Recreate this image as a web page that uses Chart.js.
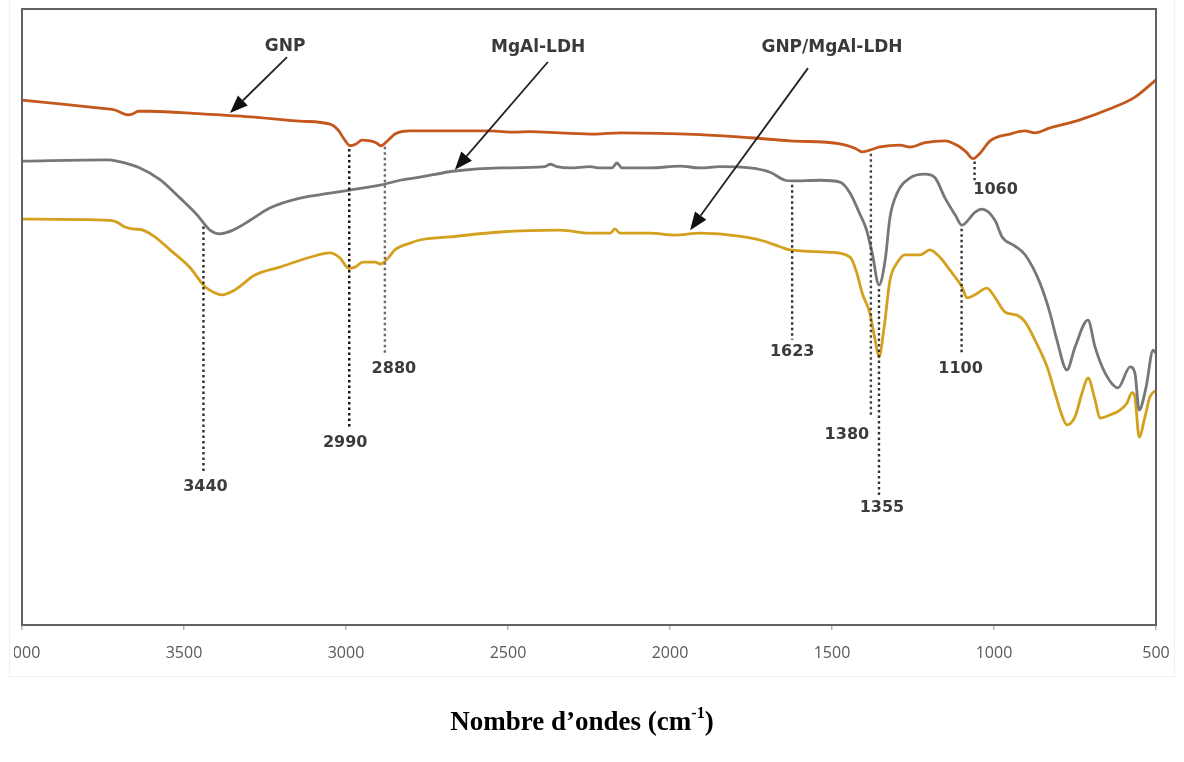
<!DOCTYPE html>
<html>
<head>
<meta charset="utf-8">
<title>FTIR</title>
<script src="https://cdn.jsdelivr.net/npm/chart.js@4.4.1/dist/chart.umd.min.js"></script>
<style>
  html, body { margin: 0; padding: 0; background: #ffffff; }
  body { width: 1184px; height: 762px; position: relative; overflow: hidden; }
  #frame { position: absolute; left: 9px; top: -1px; width: 1164px; height: 676px; border: 1px solid #f0f0f0; }
  #wrap { position: absolute; left: 14px; top: 0; width: 1170px; height: 762px; overflow: hidden; }
  #c { position: absolute; left: -14px; top: 0; }
</style>
</head>
<body>
<div id="frame"></div>
<div id="wrap"><canvas id="c" width="1184" height="762"></canvas></div>
<script>
// FTIR spectra, transmittance (a.u.) versus wavenumber (cm-1)
const gnpWn = [4000, 3883, 3759, 3713, 3691, 3673, 3657, 3642, 3605, 3451, 3296, 3142, 3049, 3025, 3006, 2988, 2969, 2951, 2926, 2907, 2892, 2870, 2849, 2802, 2679, 2555, 2480, 2432, 2340, 2230, 2154, 1907, 1753, 1630, 1475, 1429, 1407, 1383, 1352, 1290, 1259, 1213, 1151, 1111, 1086, 1065, 1043, 1012, 951, 904, 874, 827, 735, 642, 565, 500];
const gnpT  = [85.2, 84.6, 83.9, 83.6, 83.1, 82.8, 83.0, 83.4, 83.4, 83.0, 82.5, 81.8, 81.3, 80.4, 78.9, 77.8, 78.1, 78.7, 78.6, 78.3, 77.8, 78.7, 79.7, 80.2, 80.2, 80.2, 80.0, 80.1, 79.9, 79.7, 79.9, 79.6, 79.1, 78.6, 78.1, 77.4, 76.8, 77.1, 77.6, 77.9, 77.6, 78.3, 78.6, 77.8, 76.8, 75.7, 76.6, 78.6, 79.7, 80.2, 79.9, 80.7, 82.0, 83.8, 85.7, 88.5];

const ldhWn = [4000, 3738, 3707, 3636, 3574, 3512, 3460, 3420, 3389, 3349, 3296, 3235, 3142, 3049, 2988, 2895, 2833, 2772, 2664, 2525, 2386, 2370, 2349, 2309, 2247, 2216, 2179, 2164, 2148, 2062, 1969, 1907, 1846, 1753, 1691, 1645, 1623, 1537, 1475, 1444, 1413, 1395, 1376, 1355, 1336, 1321, 1299, 1259, 1213, 1182, 1151, 1120, 1099, 1059, 1037, 997, 975, 935, 904, 858, 827, 806, 775, 750, 710, 688, 657, 617, 580, 565, 552, 531, 509, 500];
const ldhT  = [75.3, 75.5, 75.3, 74.2, 72.3, 69.3, 66.6, 64.1, 63.5, 64.1, 65.7, 67.7, 69.3, 70.1, 70.6, 71.4, 72.2, 72.7, 73.7, 74.2, 74.4, 74.8, 74.4, 74.2, 74.4, 74.2, 74.2, 75.0, 74.2, 74.2, 74.5, 74.2, 74.4, 74.2, 73.5, 72.2, 72.1, 72.2, 71.9, 70.1, 66.6, 64.4, 60.4, 55.2, 59.2, 66.2, 70.1, 72.6, 73.2, 72.6, 69.3, 66.6, 64.9, 67.0, 67.5, 65.7, 63.0, 61.5, 60.1, 55.5, 50.6, 46.3, 41.4, 45.1, 49.5, 45.1, 40.9, 38.5, 41.9, 40.9, 34.9, 38.5, 44.6, 44.1];

const hybWn = [4000, 3728, 3707, 3682, 3657, 3627, 3590, 3543, 3481, 3435, 3404, 3383, 3343, 3281, 3204, 3111, 3049, 3019, 2991, 2972, 2948, 2911, 2892, 2870, 2849, 2802, 2772, 2679, 2525, 2340, 2247, 2185, 2170, 2154, 2062, 1985, 1907, 1815, 1722, 1660, 1630, 1506, 1444, 1423, 1407, 1383, 1367, 1355, 1339, 1321, 1299, 1275, 1228, 1198, 1167, 1136, 1099, 1083, 1059, 1022, 997, 966, 929, 904, 874, 836, 812, 796, 775, 750, 728, 710, 688, 673, 642, 611, 590, 574, 565, 552, 534, 519, 500];
const hybT  = [65.9, 65.7, 65.4, 64.6, 64.3, 64.1, 63.0, 60.9, 58.0, 54.9, 53.9, 53.6, 54.4, 56.8, 58.1, 59.7, 60.4, 59.6, 57.9, 58.1, 58.9, 58.9, 58.6, 59.6, 60.9, 62.0, 62.5, 63.0, 63.8, 64.1, 63.6, 63.6, 64.3, 63.6, 63.6, 63.3, 63.6, 63.3, 62.5, 61.4, 60.9, 60.5, 59.7, 57.1, 53.9, 50.6, 46.3, 43.5, 48.4, 56.0, 58.8, 60.1, 60.1, 60.9, 59.7, 57.6, 54.9, 53.1, 53.6, 54.7, 53.2, 50.8, 50.3, 49.2, 46.3, 41.9, 37.7, 34.9, 32.5, 33.8, 37.7, 40.1, 36.5, 33.6, 34.1, 34.9, 36.0, 37.7, 37.0, 30.5, 33.8, 37.0, 38.1];

const seriesNames = ['GNP', 'MgAl-LDH', 'GNP/MgAl-LDH'];
const seriesColors = ['#c4571b', '#777777', '#d4a11e'];
const xTicks = [4000, 3500, 3000, 2500, 2000, 1500, 1000, 500];

// assigned bands (cm-1)
const peakLabels = ['3440', '2990', '2880', '1623', '1380', '1355', '1100', '1060'];
const peakWn = [3440, 2990, 2880, 1623, 1380, 1355, 1100, 1060];

const seriesData = [[gnpWn, gnpT], [ldhWn, ldhT], [hybWn, hybT]];

// dotted marker layout: curve it hangs from, where it ends (a.u.), label offset (px)
const peakLayout = [
  { on: 1, end: 24.7, dx: 2,   dy: 14, color: '#2e2e2e' },
  { on: 0, end: 32.0, dx: -4,  dy: 15, color: '#111111' },
  { on: 0, end: 43.8, dx: 9,   dy: 14, color: '#6a6a6a' },
  { on: 1, end: 46.3, dx: 0,   dy: 12, color: '#333333' },
  { on: 0, end: 34.1, dx: -24, dy: 20, color: '#444444' },
  { on: 1, end: 20.8, dx: 3,   dy: 11, color: '#333333' },
  { on: 1, end: 44.2, dx: -1,  dy: 16, color: '#333333' },
  { on: 0, end: 72.2, dx: 21,  dy: 10, color: '#333333' }
];

// series name callouts: text anchor, arrow tail, arrow tip (wavenumber, a.u.)
const nameLayout = [
  { text: [3188, 93.9], tail: [3182, 92.2], tip: [3358, 83.1] },
  { text: [2407, 93.8], tail: [2377, 91.4], tip: [2664, 73.9] },
  { text: [1500, 93.8], tail: [1574, 90.4], tip: [1938, 64.1] }
];

function valueAt(wn, t, w) {
  for (let i = 0; i < wn.length - 1; i++) {
    const a = wn[i], b = wn[i + 1];
    if (w <= a && w >= b) {
      const f = (a - w) / (a - b);
      return t[i] + (t[i + 1] - t[i]) * f;
    }
  }
  return t[t.length - 1];
}

function arrow(ctx, x0, y0, x1, y1) {
  const ang = Math.atan2(y1 - y0, x1 - x0);
  const L = 18, H = 7;
  const bx = x1 - L * Math.cos(ang), by = y1 - L * Math.sin(ang);
  ctx.beginPath();
  ctx.moveTo(x0, y0);
  ctx.lineTo(bx, by);
  ctx.stroke();
  ctx.beginPath();
  ctx.moveTo(x1, y1);
  ctx.lineTo(bx + H * Math.sin(ang), by - H * Math.cos(ang));
  ctx.lineTo(bx - H * Math.sin(ang), by + H * Math.cos(ang));
  ctx.closePath();
  ctx.fill();
}

const annotations = {
  id: 'annotations',
  afterDatasetsDraw(chart) {
    const { ctx, chartArea: a, scales: { x, y } } = chart;
    ctx.save();

    // plot frame
    ctx.strokeStyle = '#626262';
    ctx.lineWidth = 2;
    ctx.strokeRect(a.left, a.top, a.right - a.left, a.bottom - a.top);

    // dotted band markers and their labels
    ctx.font = 'bold 16px "DejaVu Sans"';
    ctx.textAlign = 'center';
    ctx.textBaseline = 'middle';
    peakLayout.forEach((m, i) => {
      const w = peakWn[i];
      const px = x.getPixelForValue(w);
      const [wn, t] = seriesData[m.on];
      const top = y.getPixelForValue(valueAt(wn, t, w)) + 4;
      const bottom = y.getPixelForValue(m.end);
      ctx.setLineDash([2.5, 3]);
      ctx.lineWidth = 2.4;
      ctx.strokeStyle = m.color;
      ctx.beginPath();
      ctx.moveTo(px, top);
      ctx.lineTo(px, bottom);
      ctx.stroke();
      ctx.setLineDash([]);
      ctx.fillStyle = '#3c3c3c';
      ctx.fillText(peakLabels[i], px + m.dx, bottom + m.dy);
    });

    // series name callouts
    ctx.font = 'bold 17px "DejaVu Sans"';
    ctx.strokeStyle = '#222222';
    ctx.lineWidth = 1.8;
    nameLayout.forEach((n, i) => {
      ctx.fillStyle = '#111111';
      arrow(ctx,
        x.getPixelForValue(n.tail[0]), y.getPixelForValue(n.tail[1]),
        x.getPixelForValue(n.tip[0]), y.getPixelForValue(n.tip[1]));
      ctx.fillStyle = '#3a3a3a';
      ctx.fillText(seriesNames[i], x.getPixelForValue(n.text[0]), y.getPixelForValue(n.text[1]));
    });

    // axis title with superscript unit
    const main = 'Nombre d\u2019ondes (cm', sup = '-1', close = ')';
    const big = 'bold 27px "Liberation Serif"', small = 'bold 16px "Liberation Serif"';
    ctx.font = big;
    const w1 = ctx.measureText(main).width, w3 = ctx.measureText(close).width;
    ctx.font = small;
    const w2 = ctx.measureText(sup).width;
    const cx = (a.left + a.right) / 2 - 7;
    const base = a.bottom + 105;
    let tx = cx - (w1 + w2 + w3) / 2;
    ctx.textAlign = 'left';
    ctx.textBaseline = 'alphabetic';
    ctx.fillStyle = '#000000';
    ctx.font = big;
    ctx.fillText(main, tx, base);
    tx += w1;
    ctx.font = small;
    ctx.fillText(sup, tx, base - 12);
    tx += w2;
    ctx.font = big;
    ctx.fillText(close, tx, base);

    ctx.restore();
  }
};

const datasets = seriesData.map(([wn, t], i) => ({
  label: seriesNames[i],
  data: wn.map((w, k) => ({ x: w, y: t[k] })),
  borderColor: seriesColors[i],
  borderWidth: 2.8,
  pointRadius: 0,
  fill: false,
  cubicInterpolationMode: 'monotone'
}));

new Chart(document.getElementById('c'), {
  type: 'line',
  data: { datasets },
  options: {
    responsive: false,
    animation: false,
    layout: { padding: { left: 22, top: 9, right: 28, bottom: 0 } },
    plugins: { legend: { display: false }, tooltip: { enabled: false } },
    scales: {
      x: {
        type: 'linear',
        reverse: true,
        min: 500,
        max: 4000,
        afterFit: s => { s.height = 137; s.paddingLeft = 0; s.paddingRight = 0; },
        afterBuildTicks: s => { s.ticks = xTicks.map(v => ({ value: v })); },
        ticks: {
          color: '#595959',
          font: { family: 'Open Sans', size: 16 },
          padding: 14,
          maxRotation: 0,
          autoSkip: false,
          callback: v => String(v)
        },
        grid: { drawOnChartArea: false, drawTicks: true, tickLength: 5, color: '#b4b4b4', lineWidth: 1.5 },
        border: { display: false }
      },
      y: { display: false, min: 0, max: 100 }
    }
  },
  plugins: [annotations]
});
</script>
</body>
</html>
